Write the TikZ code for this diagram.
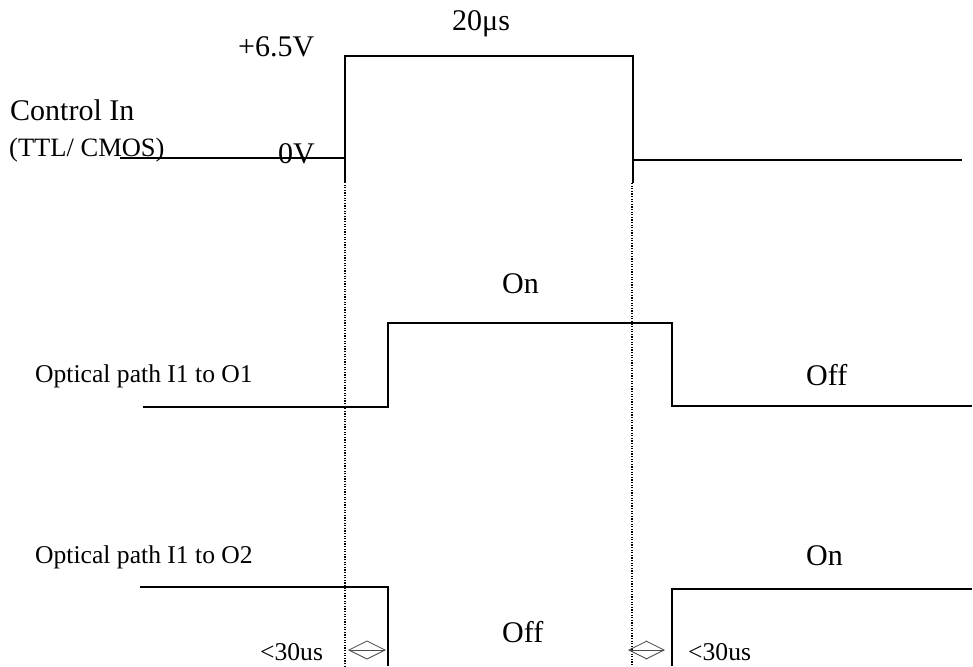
\documentclass[tikz,border=0pt]{standalone}
\usepackage{fontspec}
\setmainfont{Liberation Serif}
\usetikzlibrary{arrows.meta}
\begin{document}
\begin{tikzpicture}[x=1pt,y=-1pt,
  sig/.style={line width=2pt, line cap=butt, line join=miter},
  guide/.style={line width=1.3pt, dash pattern=on 1.2pt off 1.4pt},
  lbl/.style={inner sep=0pt, anchor=base west, font=\fontsize{30}{36}\selectfont},
  sml/.style={inner sep=0pt, anchor=base west, font=\fontsize{25.6}{30}\selectfont},
  dbl/.style={line width=0.8pt, draw=black!70, {Straight Barb[length=18pt,width=18pt]}-{Straight Barb[length=18pt,width=18pt]}}
]
\useasboundingbox (0,0) rectangle (973,666);
% Control In waveform
\draw[sig] (120,158) -- (345,158);
\draw[sig] (345,182) -- (345,56) -- (632.5,56) -- (632.5,183);
\draw[sig] (632.5,160) -- (962,160);
% guides
\draw[guide] (345,182) -- (345,666);
\draw[guide] (632,183) -- (632,666);
% Optical path I1 to O1
\draw[sig] (143,407) -- (388,407) -- (388,323) -- (671.5,323) -- (671.5,406) -- (972,406);
% Optical path I1 to O2
\draw[sig] (140,587) -- (388,587) -- (388,666);
\draw[sig] (671.5,666) -- (671.5,589) -- (972,589);
% delay arrows
\coordinate (a1) at (348,650);
\coordinate (a2) at (386,650);
\coordinate (b1) at (628,650);
\coordinate (b2) at (665,650);
\draw[dbl] (a1) -- (a2);
\draw[dbl] (b1) -- (b2);
% labels
\node[lbl] (t20) at (452,31) {20μs};
\node[lbl] (t65) at (238,57) {+6.5V};
\node[lbl] (ci) at (10,121) {Control In};
\node[inner sep=0pt, anchor=base west, font=\fontsize{26.5}{30}\selectfont] (ttl) at (9,156) {(TTL/ CMOS)};
\node[lbl] (zv) at (278,163) {0V};
\node[lbl] (on1) at (502,293) {On};
\node[sml] (p1) at (35,382) {Optical path I1 to O1};
\node[lbl] (off1) at (806,385) {Off};
\node[sml] (p2) at (35,563) {Optical path I1 to O2};
\node[lbl] (on2) at (806,565) {On};
\node[lbl] (off2) at (502,642) {Off};
\node[sml] (l30) at (260,660) {<30us};
\node[sml] (r30) at (688,660) {<30us};
\end{tikzpicture}
\end{document}
